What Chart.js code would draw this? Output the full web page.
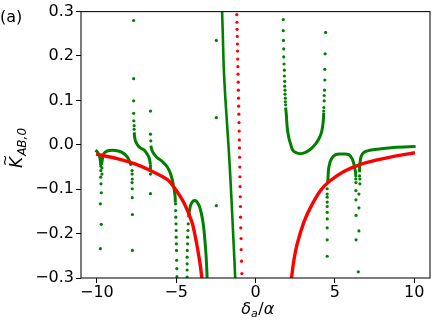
<!DOCTYPE html>
<html>
<head>
<meta charset="utf-8">
<script src="https://cdn.jsdelivr.net/npm/chart.js@4"></script>
<style>
  body { margin: 0; background: #fff; }
</style>
</head>
<body>
<canvas id="chart" width="436" height="325"></canvas>
<script>
// tick labels
var xTicks = [-10, -5, 0, 5, 10];
var yTicks = [-0.3, -0.2, -0.1, 0.0, 0.1, 0.2, 0.3];

// red curve
var redLeft = [[-10.05,-0.021],[-8.72,-0.031],[-7.68,-0.042],[-6.62,-0.058],[-5.57,-0.078],[-5.15,-0.095],
  [-4.52,-0.130],[-4.0,-0.175],[-3.75,-0.215],[-3.52,-0.262],[-3.38,-0.300],[-3.33,-0.32]];
var redRight = [[2.22,-0.32],[2.27,-0.300],[2.42,-0.260],[2.63,-0.223],[3.05,-0.174],[3.47,-0.141],[4.10,-0.103],
  [4.7,-0.081],[5.57,-0.060],[6.62,-0.044],[7.68,-0.034],[8.72,-0.026],[10.05,-0.018]];
var redDots = [[-1.18,0.293],[-1.17,0.276],[-1.16,0.260],[-1.15,0.244],[-1.14,0.227],[-1.13,0.211],[-1.12,0.193],
  [-1.11,0.176],[-1.10,0.159],[-1.09,0.141],[-1.08,0.123],[-1.07,0.105],[-1.06,0.087],[-1.05,0.069],[-1.04,0.050],
  [-1.03,0.031],[-1.02,0.011],[-1.01,-0.007],[-1.00,-0.028],[-0.99,-0.050],[-0.98,-0.072],[-0.97,-0.094],
  [-0.96,-0.117],[-0.95,-0.139],[-0.94,-0.163],[-0.93,-0.187],[-0.91,-0.211],[-0.90,-0.236],[-0.88,-0.262],[-0.86,-0.290]];

// green curve pieces
var greenA = [[-10.09,-0.012],[-9.97,-0.016],[-9.84,-0.025],[-9.78,-0.036],[-9.76,-0.045]];
var greenB = [[-9.70,-0.045],[-9.67,-0.036],[-9.59,-0.022],[-9.46,-0.016],[-9.21,-0.013],[-8.83,-0.013],
  [-8.41,-0.017],[-8.09,-0.027],[-7.95,-0.036],[-7.84,-0.047]];
var greenC = [[-7.64,0.028],[-7.63,0.020],[-7.57,0.009],[-7.44,0.000],[-7.26,-0.007],[-7.05,-0.011],
  [-6.88,-0.018],[-6.73,-0.027],[-6.66,-0.036],[-6.63,-0.044]];
var greenD = [[-6.60,-0.002],[-6.52,-0.013],[-6.37,-0.022],[-6.2,-0.029],[-6.0,-0.034],[-5.8,-0.040],[-5.6,-0.048],
  [-5.45,-0.057],[-5.33,-0.068],[-5.22,-0.083],[-5.13,-0.100],[-5.07,-0.115],[-5.05,-0.130]];
var greenE = [[-4.22,-0.163],[-4.16,-0.148],[-4.10,-0.137],[-3.99,-0.129],[-3.89,-0.126],[-3.78,-0.126],
  [-3.68,-0.129],[-3.53,-0.139],[-3.41,-0.155],[-3.28,-0.182],[-3.19,-0.215],[-3.11,-0.253],[-3.05,-0.300],[-3.04,-0.32]];
var greenF = [[-2.11,0.32],[-2.10,0.294],[-2.06,0.248],[-2.00,0.173],[-1.89,0.099],[-1.75,0.024],[-1.62,-0.051],
  [-1.51,-0.126],[-1.41,-0.200],[-1.31,-0.275],[-1.26,-0.32]];
var greenG = [[1.90,0.084],[1.94,0.069],[2.0,0.039],[2.10,0.016],[2.21,0.002],[2.33,-0.011],[2.52,-0.017],
  [2.84,-0.020],[3.15,-0.017],[3.47,-0.010],[3.79,0.002],[3.99,0.013],[4.16,0.028],[4.25,0.046],[4.29,0.063],[4.30,0.072]];
var greenH = [[4.53,-0.088],[4.56,-0.081],[4.62,-0.051],[4.78,-0.032],[5.05,-0.022],[5.47,-0.021],[5.89,-0.022],
  [6.10,-0.032],[6.20,-0.043],[6.26,-0.054],[6.31,-0.062],[6.32,-0.068]];
var greenI = [[6.56,-0.062],[6.56,-0.054],[6.62,-0.032],[6.73,-0.021],[6.94,-0.015],[7.68,-0.010],[8.72,-0.006],[10.09,-0.004]];

// green loose dots (spikes and strays)
var greenDots = [
  [-9.76,-0.048],[-9.68,-0.052],[-9.75,-0.058],[-9.68,-0.066],[-9.76,-0.073],[-9.74,-0.088],[-9.72,-0.108],
  [-9.78,-0.133],[-9.72,-0.179],[-9.78,-0.234],
  [-7.78,-0.058],[-7.78,-0.066],[-7.77,-0.077],[-7.78,-0.085],[-7.77,-0.099],[-7.77,-0.119],[-7.76,-0.157],[-7.76,-0.238],
  [-7.68,0.280],[-7.68,0.149],[-7.68,0.099],[-7.68,0.071],[-7.67,0.054],[-7.65,0.043],[-7.65,0.035],
  [-6.62,-0.047],[-6.62,-0.052],[-6.62,-0.058],[-6.62,-0.066],[-6.62,-0.110],
  [-6.62,0.076],[-6.62,0.024],[-6.60,0.009],
  [-5.04,-0.133],[-5.03,-0.148],[-5.02,-0.163],[-5.01,-0.178],[-5.0,-0.193],[-5.0,-0.208],[-4.99,-0.223],
  [-4.98,-0.238],[-4.97,-0.260],[-4.96,-0.279],[-4.95,-0.297],
  [-4.31,-0.298],[-4.31,-0.282],[-4.31,-0.268],[-4.31,-0.253],[-4.30,-0.238],[-4.28,-0.223],[-4.28,-0.208],
  [-4.26,-0.193],[-4.24,-0.178],
  [-2.47,0.235],[-2.47,0.061],[-2.47,-0.137],
  [1.75,0.282],[1.75,0.257],[1.76,0.235],[1.78,0.216],[1.78,0.198],[1.80,0.182],[1.82,0.168],[1.82,0.155],
  [1.84,0.143],[1.84,0.132],[1.86,0.123],[1.86,0.114],[1.88,0.105],[1.88,0.097],[1.90,0.090],
  [4.30,0.076],[4.31,0.084],[4.33,0.099],[4.33,0.111],[4.35,0.123],[4.37,0.146],[4.37,0.170],[4.39,0.205],[4.42,0.253],
  [4.52,-0.251],[4.52,-0.214],[4.52,-0.187],[4.52,-0.167],[4.52,-0.152],[4.52,-0.139],[4.52,-0.129],[4.52,-0.118],
  [4.52,-0.111],[4.52,-0.099],
  [6.32,-0.070],[6.32,-0.077],[6.33,-0.085],[6.33,-0.103],[6.33,-0.124],[6.34,-0.159],[6.34,-0.214],[6.48,-0.286],
  [6.52,-0.194],[6.52,-0.142],[6.52,-0.111],[6.58,-0.088],[6.58,-0.077],[6.56,-0.070]
];

var RED = '#ff0000', GREEN = '#008000';

function toXY(pts) {
  return pts.map(function (p) { return {x: p[0], y: p[1]}; });
}
function curve(pts, color, w) {
  return {data: toXY(pts), showLine: true, borderColor: color, borderWidth: w,
          pointRadius: 0, tension: 0.3, fill: false};
}
function dots(pts, color) {
  return {data: toXY(pts), showLine: false, pointRadius: 1.6, backgroundColor: color,
          borderWidth: 0, pointBorderWidth: 0};
}
function minus(s) { return String(s).replace('-', '\u2212'); }

// frame + axis titles + panel label
var extras = {
  id: 'extras',
  afterDraw: function (chart) {
    var c = chart.ctx, a = chart.chartArea;
    c.save();
    c.strokeStyle = '#111';
    c.lineWidth = 1.1;
    c.strokeRect(a.left, a.top, a.right - a.left, a.bottom - a.top);

    c.fillStyle = '#000';
    c.textBaseline = 'alphabetic';
    c.textAlign = 'left';
    c.font = '16px "DejaVu Sans"';
    c.fillText('(a)', 0, 22);

    // x label: δ_a / α
    var big = 'italic 16px "DejaVu Sans"', small = 'italic 11px "DejaVu Sans"', up = '16px "DejaVu Sans"';
    c.font = big; var w1 = c.measureText('\u03b4').width;
    c.font = small; var w2 = c.measureText('a').width;
    c.font = up; var w3 = c.measureText('/').width;
    c.font = big; var w4 = c.measureText('\u03b1').width;
    var x0 = (a.left + a.right) / 2 + 2 - (w1 + w2 + w3 + w4) / 2, yb = 314;
    c.font = big; c.fillText('\u03b4', x0, yb);
    c.font = small; c.fillText('a', x0 + w1, yb + 3);
    c.font = up; c.fillText('/', x0 + w1 + w2 + 0.5, yb);
    c.font = big; c.fillText('\u03b1', x0 + w1 + w2 + w3 + 0.5, yb);

    // y label: K~_{AB,0}, rotated
    c.translate(22, 168);
    c.rotate(-Math.PI / 2);
    c.font = 'italic 17px "DejaVu Sans"';
    var kw = c.measureText('K').width;
    c.fillText('K', 0, 0);
    c.font = '14px "DejaVu Sans"';
    c.textAlign = 'center';
    c.fillText('~', kw / 2 + 2, -12);
    c.textAlign = 'left';
    c.font = 'italic 12px "DejaVu Sans"';
    c.fillText('AB,0', kw + 1, 4);
    c.restore();
  }
};

var tickFont = {family: '"DejaVu Sans"', size: 16};

new Chart(document.getElementById('chart'), {
  type: 'scatter',
  data: {
    datasets: [
      curve(redLeft, RED, 3.4),
      curve(redRight, RED, 3.4),
      dots(redDots, RED),
      curve(greenA, GREEN, 3),
      curve(greenB, GREEN, 3),
      curve(greenC, GREEN, 3),
      curve(greenD, GREEN, 3),
      curve(greenE, GREEN, 3),
      curve(greenF, GREEN, 2.6),
      curve(greenG, GREEN, 3),
      curve(greenH, GREEN, 3),
      curve(greenI, GREEN, 3),
      dots(greenDots, GREEN)
    ]
  },
  options: {
    responsive: false,
    animation: false,
    devicePixelRatio: 1,
    layout: {padding: {left: 0, top: 10, right: 6, bottom: 0}},
    plugins: {legend: {display: false}, tooltip: {enabled: false}},
    scales: {
      x: {
        type: 'linear', min: -11, max: 11,
        afterBuildTicks: function (ax) { ax.ticks = xTicks.map(function (v) { return {value: v}; }); },
        afterFit: function (ax) { ax.height = 47; },
        grid: {drawOnChartArea: false, tickLength: 5, color: '#000', tickWidth: 1},
        border: {display: false},
        ticks: {font: tickFont, color: '#000', padding: 0, maxRotation: 0,
                callback: function (v) { return minus(v); }}
      },
      y: {
        type: 'linear', min: -0.3, max: 0.3,
        afterBuildTicks: function (ax) { ax.ticks = yTicks.map(function (v) { return {value: v}; }); },
        afterFit: function (ax) { ax.width = 81; },
        grid: {drawOnChartArea: false, tickLength: 5, color: '#000', tickWidth: 1},
        border: {display: false},
        ticks: {font: tickFont, color: '#000', padding: 2,
                callback: function (v) { return minus(Number(v).toFixed(1)); }}
      }
    }
  },
  plugins: [extras]
});
</script>
</body>
</html>
